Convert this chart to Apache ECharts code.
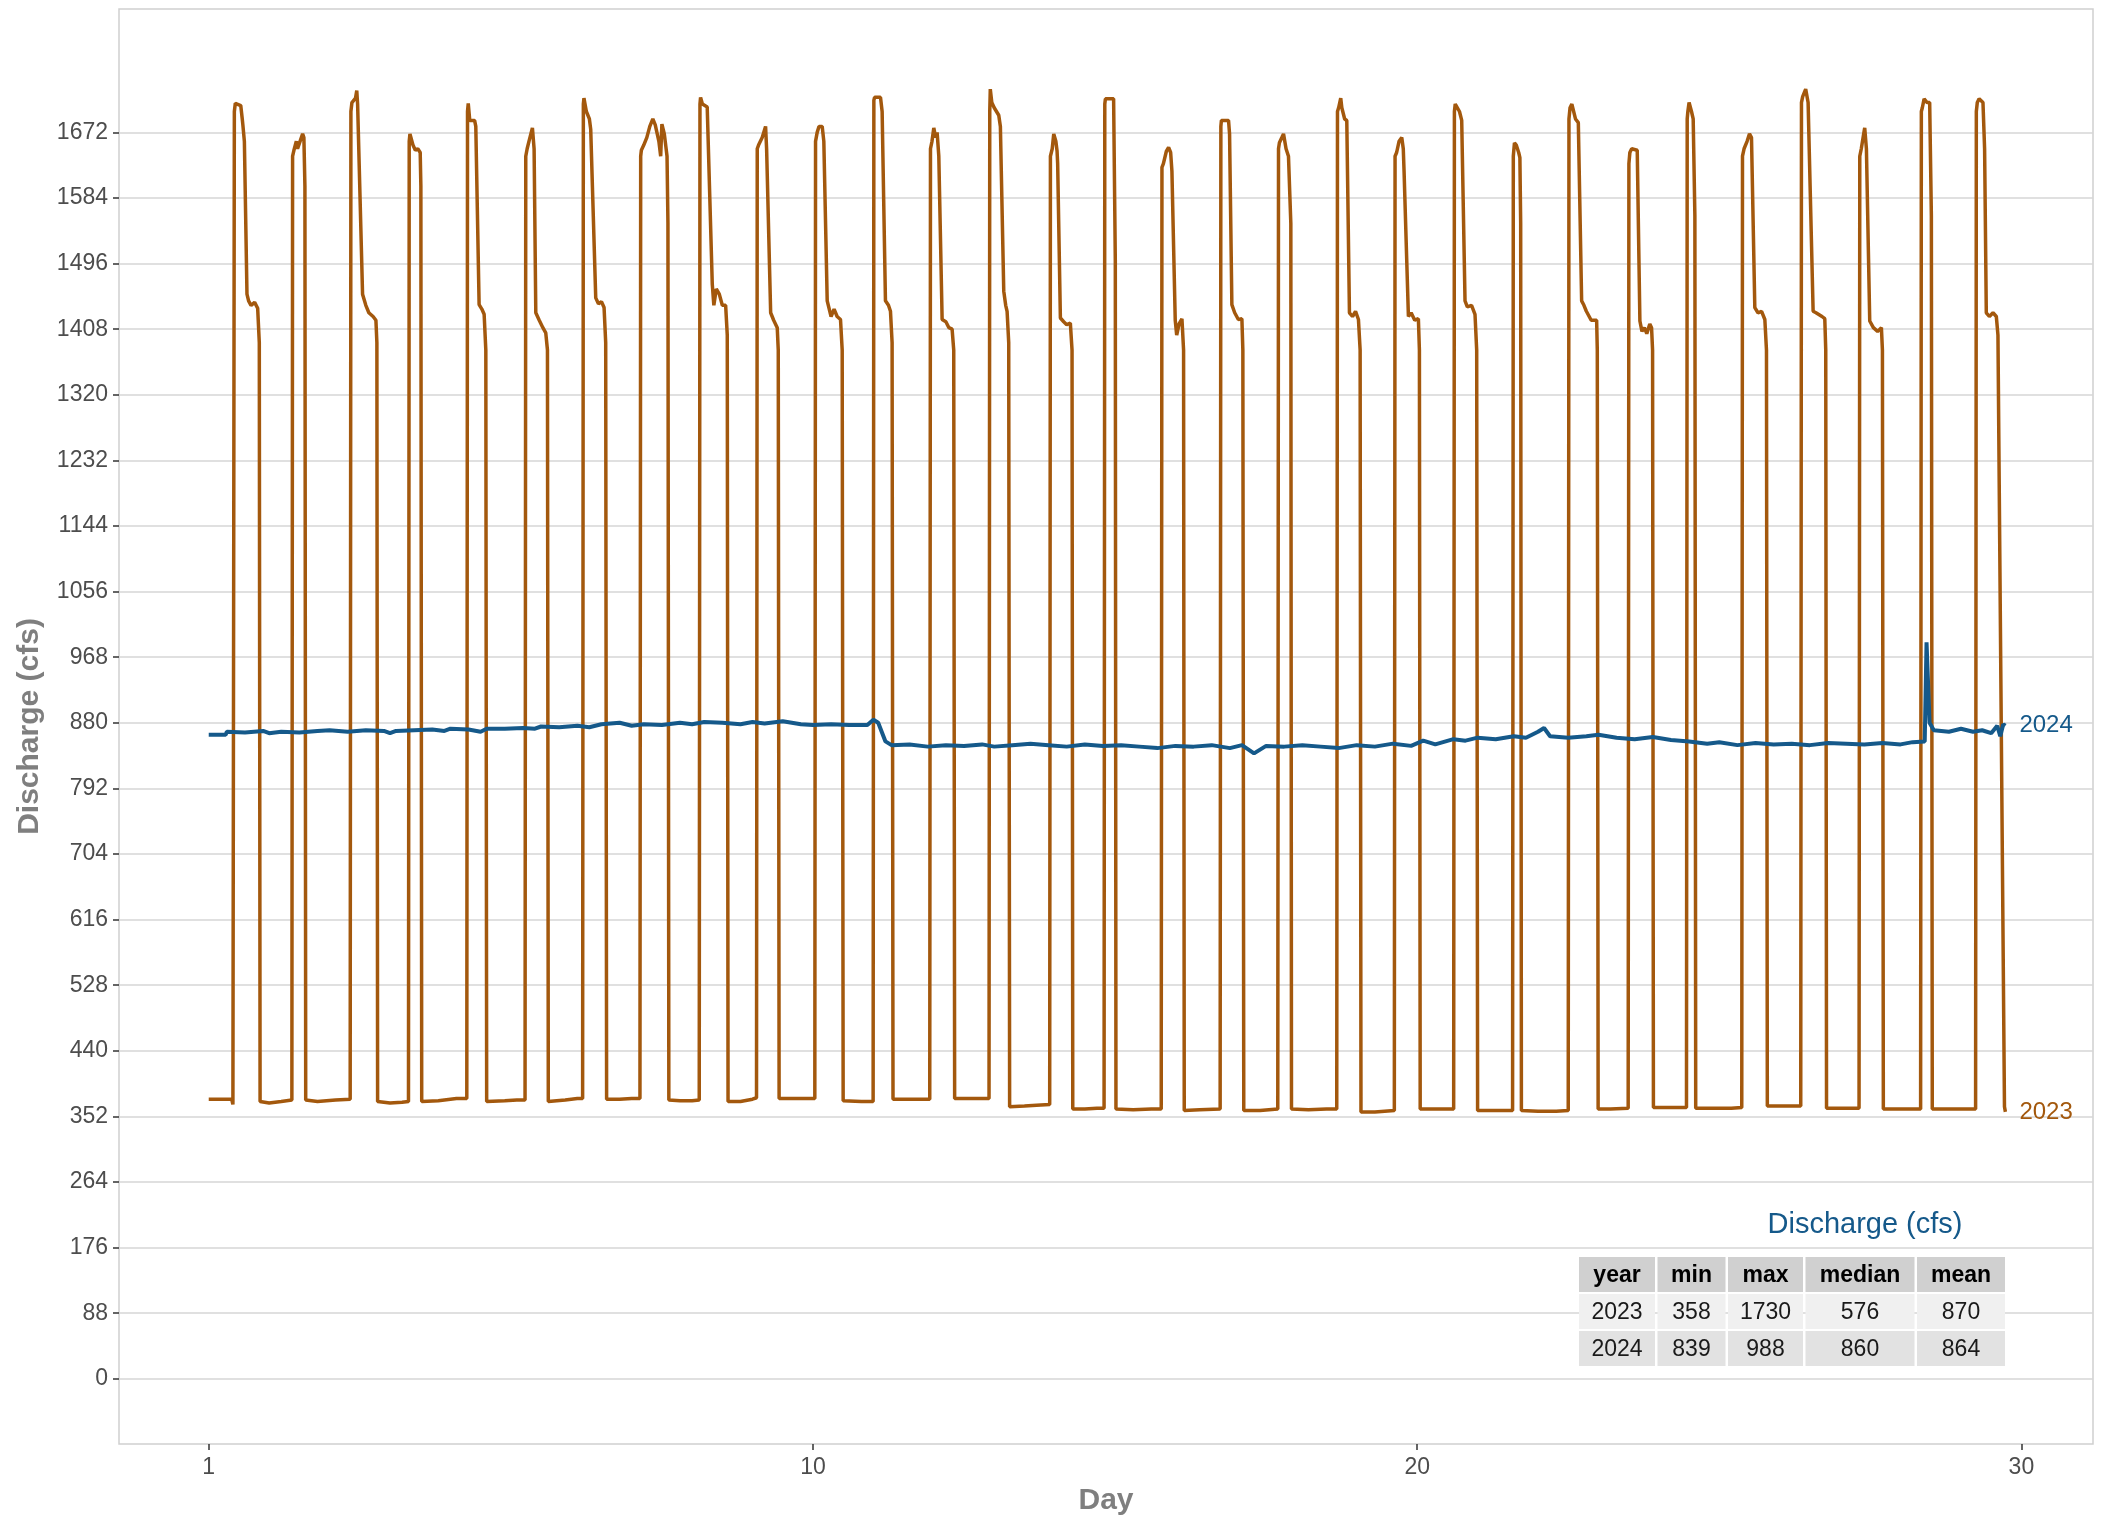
<!DOCTYPE html>
<html>
<head>
<meta charset="utf-8">
<script src="https://cdn.jsdelivr.net/npm/echarts@6/dist/echarts.min.js"></script>
<style>
html,body{margin:0;padding:0;background:#fff;}
#chart{width:2101px;height:1523px;}
</style>
</head>
<body>
<div id="chart"></div>
<script>
// x = elapsed days (tick "1" sits at 0), y = discharge (cfs)
const xTickValues = [0, 10, 20, 30];
const xTickLabels = ['1', '10', '20', '30'];
const yTicks = [0, 88, 176, 264, 352, 440, 528, 616, 704, 792, 880, 968, 1056, 1144, 1232, 1320, 1408, 1496, 1584, 1672];

const d2023 = [
[0,375],[0.38,375],[0.40,368],[0.412,370],
[0.424,1700],[0.44,1711],[0.53,1708],[0.555,1690],[0.565,1682],[0.59,1660],[0.633,1455],[0.66,1446],[0.70,1440],[0.76,1444],[0.81,1436],[0.837,1390],[0.85,372],
[1.0,370],[1.2,372],[1.376,374],
[1.388,1640],[1.41,1648],[1.45,1660],[1.47,1650],[1.52,1662],[1.554,1670],[1.575,1665],[1.592,1600],[1.605,374],
[1.8,372],[2.1,374],[2.341,375],
[2.353,1700],[2.37,1712],[2.43,1718],[2.45,1728],[2.464,1710],[2.546,1455],[2.6,1440],[2.65,1430],[2.72,1425],[2.767,1420],[2.783,1390],[2.795,372],
[3.0,370],[3.2,371],[3.306,372],
[3.318,1660],[3.33,1670],[3.38,1655],[3.42,1648],[3.46,1650],[3.5,1645],[3.511,1600],[3.525,372],
[3.8,373],[4.1,376],[4.271,376],
[4.283,1700],[4.295,1711],[4.32,1688],[4.40,1688],[4.42,1680],[4.475,1441],[4.52,1435],[4.558,1428],[4.586,1380],[4.6,372],
[4.9,373],[5.1,374],[5.235,374],
[5.247,1640],[5.27,1650],[5.3,1660],[5.357,1678],[5.385,1650],[5.413,1430],[5.47,1420],[5.53,1410],[5.578,1403],[5.606,1380],[5.62,372],
[5.9,374],[6.1,376],[6.188,376],
[6.2,1710],[6.21,1718],[6.25,1700],[6.30,1690],[6.322,1676],[6.405,1450],[6.45,1442],[6.5,1445],[6.543,1437],[6.57,1390],[6.585,375],
[6.8,375],[7.0,376],[7.137,376],
[7.149,1640],[7.16,1648],[7.2,1655],[7.25,1665],[7.3,1680],[7.35,1690],[7.39,1682],[7.45,1660],[7.48,1640],[7.5,1683],[7.54,1670],[7.585,1640],[7.6,1550],[7.615,374],
[7.8,373],[8.0,373],[8.118,374],
[8.13,1710],[8.14,1719],[8.17,1710],[8.25,1706],[8.334,1468],[8.36,1440],[8.4,1462],[8.45,1455],[8.5,1440],[8.555,1440],[8.582,1400],[8.595,372],
[8.8,372],[9.0,375],[9.066,377],
[9.078,1650],[9.1,1655],[9.16,1665],[9.216,1680],[9.233,1650],[9.3,1430],[9.35,1420],[9.409,1410],[9.426,1380],[9.44,376],
[9.7,376],[9.9,376],[10.031,376],
[10.043,1660],[10.07,1672],[10.1,1680],[10.153,1680],[10.18,1660],[10.236,1446],[10.3,1425],[10.35,1435],[10.4,1425],[10.456,1421],[10.484,1380],[10.5,373],
[10.8,372],[10.996,372],
[11.008,1715],[11.02,1719],[11.118,1719],[11.145,1700],[11.2,1446],[11.25,1440],[11.283,1432],[11.31,1390],[11.325,375],
[11.6,375],[11.933,375],
[11.945,1650],[11.97,1660],[12.0,1678],[12.03,1665],[12.055,1672],[12.083,1640],[12.138,1421],[12.2,1418],[12.25,1410],[12.303,1408],[12.33,1380],[12.345,376],
[12.6,376],[12.914,376],
[12.926,1700],[12.935,1730],[12.96,1712],[13.0,1705],[13.075,1695],[13.102,1680],[13.158,1459],[13.19,1440],[13.213,1432],[13.24,1390],[13.255,365],
[13.5,366],[13.7,367],[13.918,368],
[13.93,1640],[13.96,1650],[13.985,1670],[14.02,1660],[14.04,1647],[14.05,1630],[14.095,1423],[14.15,1418],[14.2,1414],[14.26,1416],[14.288,1380],[14.3,362],
[14.5,362],[14.7,363],[14.818,363],
[14.83,1710],[14.84,1717],[14.976,1717],[15.004,1500],[15.015,362],
[15.3,361],[15.6,362],[15.764,362],
[15.776,1625],[15.8,1630],[15.85,1647],[15.886,1652],[15.92,1645],[15.941,1620],[15.996,1420],[16.02,1400],[16.06,1415],[16.107,1422],[16.134,1380],[16.145,360],
[16.4,361],[16.739,362],
[16.751,1680],[16.76,1688],[16.878,1688],[16.895,1670],[16.933,1441],[16.98,1430],[17.04,1421],[17.099,1422],[17.115,1380],[17.13,360],
[17.4,360],[17.693,362],
[17.705,1650],[17.72,1658],[17.76,1665],[17.788,1670],[17.83,1650],[17.87,1640],[17.898,1638],[17.909,1550],[17.92,362],
[18.2,361],[18.5,362],[18.669,362],
[18.681,1700],[18.7,1705],[18.735,1718],[18.753,1705],[18.8,1690],[18.835,1688],[18.879,1430],[18.93,1425],[18.98,1432],[19.028,1421],[19.056,1380],[19.07,358],
[19.3,358],[19.622,360],
[19.634,1640],[19.66,1645],[19.7,1660],[19.745,1665],[19.77,1650],[19.783,1620],[19.855,1425],[19.9,1430],[19.96,1420],[20.02,1422],[20.037,1380],[20.05,362],
[20.3,362],[20.604,362],
[20.616,1700],[20.63,1710],[20.7,1700],[20.737,1688],[20.792,1446],[20.83,1438],[20.9,1440],[20.957,1428],[20.985,1380],[21.0,360],
[21.3,360],[21.579,360],
[21.591,1640],[21.61,1658],[21.64,1655],[21.68,1645],[21.7,1638],[21.713,1550],[21.725,360],
[22.0,359],[22.3,359],[22.5,360],
[22.512,1690],[22.53,1705],[22.56,1710],[22.62,1690],[22.667,1685],[22.722,1446],[22.76,1440],[22.8,1432],[22.88,1420],[22.97,1420],[22.981,1380],[22.995,362],
[23.2,362],[23.492,363],
[23.504,1630],[23.52,1645],[23.55,1650],[23.642,1648],[23.686,1419],[23.72,1405],[23.76,1410],[23.8,1402],[23.85,1415],[23.879,1410],[23.896,1380],[23.91,364],
[24.2,364],[24.457,364],
[24.469,1690],[24.48,1700],[24.5,1712],[24.54,1700],[24.568,1690],[24.596,1560],[24.61,363],
[24.9,363],[25.2,363],[25.372,364],
[25.384,1640],[25.41,1650],[25.46,1660],[25.5,1670],[25.533,1665],[25.588,1437],[25.64,1430],[25.7,1432],[25.754,1421],[25.781,1380],[25.795,366],
[26.1,366],[26.348,366],
[26.36,1712],[26.38,1720],[26.43,1730],[26.47,1712],[26.553,1432],[26.6,1430],[26.7,1425],[26.746,1422],[26.762,1380],[26.775,363],
[27.0,363],[27.313,363],
[27.325,1640],[27.35,1650],[27.39,1670],[27.407,1678],[27.435,1650],[27.49,1419],[27.55,1410],[27.62,1405],[27.683,1410],[27.7,1380],[27.715,362],
[28.0,362],[28.332,362],
[28.344,1700],[28.36,1705],[28.39,1717],[28.44,1712],[28.482,1712],[28.51,1560],[28.525,362],
[28.8,362],[29.242,362],
[29.254,1700],[29.27,1712],[29.30,1717],[29.364,1712],[29.391,1650],[29.419,1430],[29.47,1425],[29.53,1430],[29.585,1425],[29.612,1400],[29.72,365],[29.735,358]
];

const d2024 = [
[0,864],[0.28,864],[0.3,868],[0.6,867],[0.9,869],[1.0,866],[1.2,868],[1.5,867],[1.8,869],[2.0,870],[2.3,868],[2.6,870],[2.9,869],[3.0,866],[3.1,869],[3.4,870],[3.7,871],[3.9,869],[4.0,872],[4.3,871],[4.5,868],[4.6,872],[4.9,872],[5.2,873],[5.4,872],[5.5,875],[5.8,874],[6.1,876],[6.3,874],[6.5,878],[6.8,880],[7.0,876],[7.2,878],[7.5,877],[7.8,880],[8.0,878],[8.2,881],[8.5,880],[8.8,878],[9.0,881],[9.2,879],[9.5,882],[9.8,878],[10.0,877],[10.3,878],[10.6,877],[10.9,877],[11.0,884],[11.08,880],[11.2,855],[11.3,850],[11.6,851],[11.9,848],[12.2,850],[12.5,849],[12.8,851],[13.0,848],[13.3,850],[13.6,852],[13.9,850],[14.2,848],[14.5,851],[14.8,849],[15.1,850],[15.4,848],[15.7,846],[16.0,849],[16.3,848],[16.6,850],[16.9,846],[17.1,850],[17.3,839],[17.5,849],[17.8,848],[18.1,850],[18.4,848],[18.7,846],[19.0,850],[19.3,848],[19.6,852],[19.9,849],[20.1,856],[20.3,851],[20.6,858],[20.8,856],[21.0,860],[21.3,858],[21.6,862],[21.8,860],[22.0,868],[22.1,873],[22.2,862],[22.5,860],[22.8,862],[23.0,864],[23.3,860],[23.6,858],[23.9,861],[24.2,857],[24.5,855],[24.8,852],[25.0,854],[25.3,850],[25.6,853],[25.9,851],[26.2,852],[26.5,850],[26.8,853],[27.1,852],[27.4,851],[27.7,853],[28.0,851],[28.2,854],[28.4,855],[28.43,988],[28.48,880],[28.55,870],[28.8,868],[29.0,872],[29.2,868],[29.35,870],[29.5,866],[29.6,876],[29.65,862],[29.7,878],[29.735,876]
];

const seriesNames = ['2023', '2024'];
const seriesColors = ['#a3580d', '#15598a'];

const tableTitle = 'Discharge (cfs)';
const tableHeader = ['year', 'min', 'max', 'median', 'mean'];
const tableRows = [
  ['2023', '358', '1730', '576', '870'],
  ['2024', '839', '988', '860', '864']
];

// ---- table layout (graphic elements) ----
const colWidths = [76, 68, 75, 109, 88];
const colGap = 2.5;
const tableLeft = 1579, tableTop = 1257, rowH = 35, rowGap = 2;
const rowFills = ['#d0d0d0', '#f0f0f0', '#e2e2e2'];
const graphics = [];
graphics.push({ type: 'text', z: 100, style: { text: tableTitle, x: 1865, y: 1225, fill: '#15598a', fontSize: 29, fontFamily: 'Liberation Sans', textAlign: 'center', textVerticalAlign: 'middle' } });
const allRows = [tableHeader].concat(tableRows);
allRows.forEach((row, r) => {
  let x = tableLeft;
  const y = tableTop + r * (rowH + rowGap);
  row.forEach((cell, c) => {
    const w = colWidths[c];
    graphics.push({ type: 'rect', z: 100, shape: { x: x, y: y, width: w, height: rowH }, style: { fill: rowFills[r] } });
    graphics.push({ type: 'text', z: 101, style: { text: cell, x: x + w / 2, y: y + rowH / 2 + 1, fill: r === 0 ? '#000' : '#1a1a1a', fontSize: 23, fontWeight: r === 0 ? 'bold' : 'normal', fontFamily: 'Liberation Sans', textAlign: 'center', textVerticalAlign: 'middle' } });
    x += w + colGap;
  });
});

const chart = echarts.init(document.getElementById('chart'), null, { renderer: 'canvas' });
const labelFont = { fontFamily: 'Liberation Sans', fontSize: 23, color: '#4d4d4d' };
const titleFont = { fontFamily: 'Liberation Sans', fontSize: 30, fontWeight: 'bold', color: '#7f7f7f' };

chart.setOption({
  animation: false,
  backgroundColor: '#ffffff',
  grid: { left: 119, right: 8, top: 9, bottom: 79, show: true, borderColor: '#d0d0d0', borderWidth: 1.5, backgroundColor: '#ffffff' },
  xAxis: {
    type: 'value', min: -1.485, max: 31.185,
    name: 'Day', nameLocation: 'middle', nameGap: 42, nameTextStyle: titleFont,
    axisLine: { show: false, onZero: false },
    axisTick: { show: true, length: 6, lineStyle: { color: '#333333', width: 1.5 }, customValues: xTickValues },
    axisLabel: Object.assign({ customValues: xTickValues, margin: 12, formatter: v => xTickLabels[xTickValues.indexOf(v)] }, labelFont),
    splitLine: { show: false }
  },
  yAxis: {
    type: 'value', min: -87.5, max: 1837.5,
    name: 'Discharge (cfs)', nameLocation: 'middle', nameGap: 74, nameRotate: 90, nameTextStyle: titleFont,
    axisLine: { show: false, onZero: false },
    axisTick: { show: true, length: 6, lineStyle: { color: '#333333', width: 1.5 }, customValues: yTicks },
    axisLabel: Object.assign({ customValues: yTicks, margin: 11, formatter: v => String(v) }, labelFont),
    splitLine: { show: true, lineStyle: { color: '#d6d6d6', width: 1.6 } }
  },
  series: [
    {
      name: seriesNames[0], type: 'line', data: d2023, showSymbol: false, symbol: 'none',
      lineStyle: { color: seriesColors[0], width: 3.5 }, z: 2,
      endLabel: { show: true, formatter: p => p.seriesName, color: seriesColors[0], fontSize: 24, fontFamily: 'Liberation Sans', distance: 14 }
    },
    {
      name: seriesNames[1], type: 'line', data: d2024, showSymbol: false, symbol: 'none',
      lineStyle: { color: seriesColors[1], width: 4 }, z: 3,
      endLabel: { show: true, formatter: p => p.seriesName, color: seriesColors[1], fontSize: 24, fontFamily: 'Liberation Sans', distance: 14 }
    }
  ],
  graphic: graphics
});
</script>
</body>
</html>
